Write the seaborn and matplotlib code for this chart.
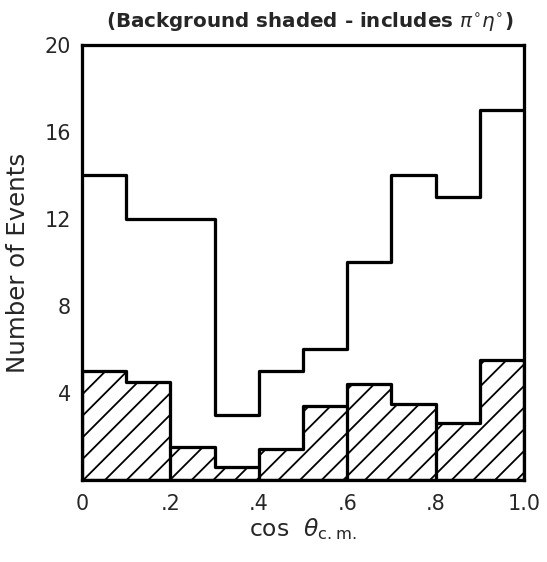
import numpy as np
import pandas as pd
import matplotlib
matplotlib.use("Agg")
import matplotlib.pyplot as plt
import seaborn as sns

# ---- data ----
bin_edges = [0.0, 0.1, 0.2, 0.3, 0.4, 0.5, 0.6, 0.7, 0.8, 0.9, 1.0]
events = [14, 12, 12, 3, 5, 6, 10, 14, 13, 17]
background = [5.0, 4.5, 1.5, 0.6, 1.4, 3.4, 4.4, 3.5, 2.6, 5.5]
group_edges = [0.2, 0.4, 0.6, 0.8]
xtick_values = [0.0, 0.2, 0.4, 0.6, 0.8, 1.0]
xtick_labels = ["0", ".2", ".4", ".6", ".8", "1.0"]
ytick_values = [2, 4, 6, 8, 10, 12, 14, 16, 18, 20]
ytick_labels = ["", "4", "", "8", "", "12", "", "16", "", "20"]

edges = np.array(bin_edges)
centers = (edges[:-1] + edges[1:]) / 2
df = pd.DataFrame({"cos": centers, "events": events, "background": background})

sns.set_style("white")
plt.rcParams["font.family"] = ["DejaVu Sans"]
plt.rcParams["hatch.linewidth"] = 1.0
plt.rcParams["hatch.color"] = "black"

DPI = 130
fig = plt.figure(figsize=(547 / DPI, 562 / DPI), dpi=DPI)
ax = fig.add_axes([0.150, 0.146, 0.808, 0.774])

lw = 1.8
# background (hatched)
sns.histplot(data=df, x="cos", weights="background", bins=bin_edges,
             element="step", fill=True, ax=ax,
             facecolor="white", edgecolor="black", hatch="//", linewidth=lw, alpha=1)
# bin outline lines between groups of two bins
for e in group_edges:
    i = int(np.argmin(np.abs(edges - e)))
    h = min(background[i - 1], background[i])
    ax.vlines(e, 0, h, color="black", linewidth=lw)
# events histogram
sns.histplot(data=df, x="cos", weights="events", bins=bin_edges,
             element="step", fill=False, ax=ax, color="black", linewidth=lw)

ax.set_xlim(0, 1.0)
ax.set_ylim(0, 20)
ax.set_xticks(xtick_values)
ax.set_xticklabels(xtick_labels)
ax.set_yticks(ytick_values)
ax.set_yticklabels(ytick_labels)
ax.tick_params(axis="y", direction="in", length=8, width=lw, labelsize=11.5, pad=6, right=False)
ax.tick_params(axis="x", direction="in", length=0, labelsize=11.5, pad=8)
for s in ax.spines.values():
    s.set_visible(True)
    s.set_linewidth(lw)
    s.set_color("black")

ax.set_xlabel(r"cos  $\theta_{\rm c.m.}$", fontsize=13, labelpad=1)
ax.set_ylabel("Number of Events", fontsize=13.5, labelpad=8)
ax.set_title(r"(Background shaded - includes $\pi^{\circ}\eta^{\circ}$)",
             fontsize=11, fontweight="bold", pad=10, x=0.516)

fig.savefig("out.png", dpi=DPI)
